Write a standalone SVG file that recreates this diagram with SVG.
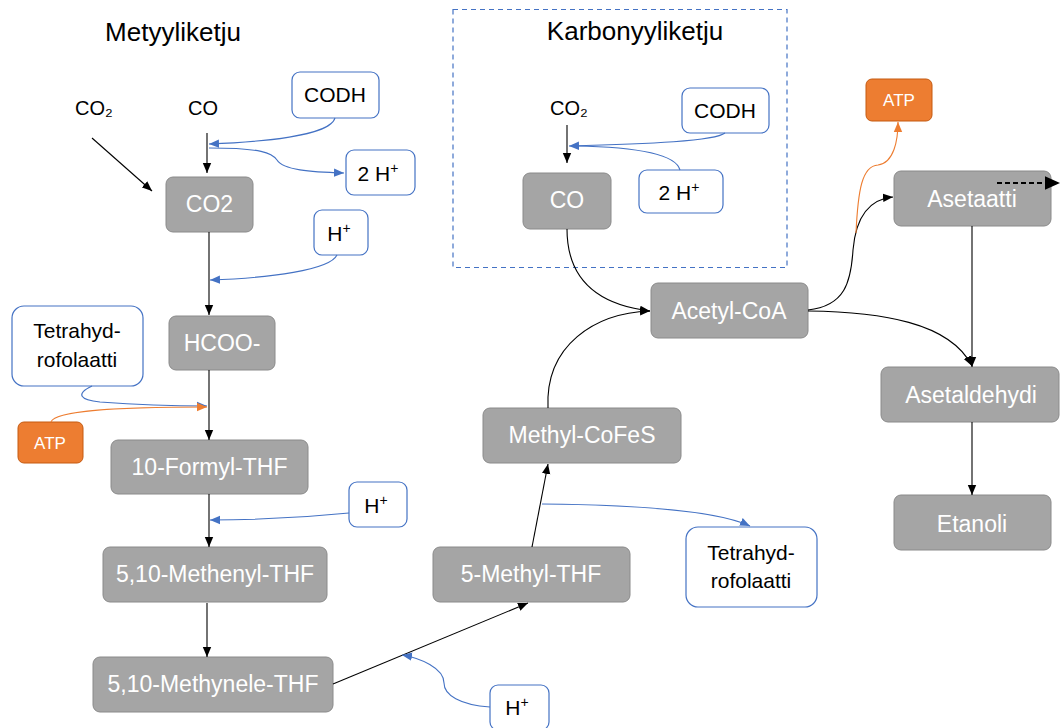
<svg xmlns="http://www.w3.org/2000/svg" width="1060" height="728" viewBox="0 0 1060 728">
<style>
text{font-family:"Liberation Sans",Arial,sans-serif;text-anchor:middle}
.title{font-size:26px;fill:#000}
.lbl{font-size:20px;fill:#000}
.node rect{fill:#A5A5A5;stroke:#8A8A8A;stroke-width:1}
.node text{font-size:23px;fill:#fff}
.cof rect{fill:#fff;stroke:#4472C4;stroke-width:1.2}
.cof text{font-size:21px;fill:#000}
.atp rect{fill:#ED7D31;stroke:#C55A11;stroke-width:1}
.atp text{font-size:17px;fill:#fff}
.k{fill:none;stroke:#000;stroke-width:1.1}
.b{fill:none;stroke:#4472C4;stroke-width:1.1}
.o{fill:none;stroke:#ED7D31;stroke-width:1.1}
</style>
<defs>
<marker id="ak" markerUnits="userSpaceOnUse" markerWidth="10" markerHeight="10" viewBox="0 0 10 10" refX="10" refY="5" orient="auto"><path d="M0,0.8 L10,5 L0,9.2 z" fill="#000"/></marker>
<marker id="ab" markerUnits="userSpaceOnUse" markerWidth="10" markerHeight="10" viewBox="0 0 10 10" refX="10" refY="5" orient="auto"><path d="M0,0.8 L10,5 L0,9.2 z" fill="#4472C4"/></marker>
<marker id="ao" markerUnits="userSpaceOnUse" markerWidth="10" markerHeight="10" viewBox="0 0 10 10" refX="10" refY="5" orient="auto"><path d="M0,0.8 L10,5 L0,9.2 z" fill="#ED7D31"/></marker>
<marker id="abig" markerUnits="userSpaceOnUse" markerWidth="15" markerHeight="15" viewBox="0 0 10 10" refX="10" refY="5" orient="auto"><path d="M0,0.5 L10,5 L0,9.5 z" fill="#000"/></marker>
</defs>

<rect x="453" y="9.5" width="334" height="258" fill="none" stroke="#4472C4" stroke-width="1.2" stroke-dasharray="5,4"/>

<text class="title" x="173" y="41">Metyyliketju</text>
<text class="title" x="635" y="40">Karbonyyliketju</text>
<text class="lbl" x="94" y="115">CO₂</text>
<text class="lbl" x="203" y="115">CO</text>
<text class="lbl" x="569" y="115">CO₂</text>

<g id="codh1" class="cof"><rect x="292" y="72" width="87" height="46" rx="8"/><text x="335" y="102">CODH</text></g>
<g id="h2a" class="cof"><rect x="346" y="150" width="69" height="45" rx="8"/><text x="378" y="181">2 H<tspan dy="-8" font-size="14">+</tspan></text></g>
<g id="co2node" class="node"><rect x="166" y="177" width="87" height="55" rx="7"/><text x="209.5" y="212">CO2</text></g>
<g id="hp1" class="cof"><rect x="314" y="210" width="54" height="45" rx="8"/><text x="339" y="241">H<tspan dy="-8" font-size="14">+</tspan></text></g>
<g id="hcoo" class="node"><rect x="169" y="316" width="106" height="54" rx="7"/><text x="222" y="351">HCOO-</text></g>
<g id="thf1" class="cof"><rect x="12" y="306" width="131" height="80" rx="12"/><text x="77" y="338">Tetrahyd-</text><text x="77" y="367">rofolaatti</text></g>
<g id="atp1" class="atp"><rect x="18" y="422" width="65" height="41" rx="6"/><text x="50" y="449">ATP</text></g>
<g id="formyl" class="node"><rect x="111" y="440" width="197" height="54" rx="7"/><text x="209.5" y="475">10-Formyl-THF</text></g>
<g id="hp2" class="cof"><rect x="349" y="482" width="58" height="45" rx="8"/><text x="376" y="513">H<tspan dy="-8" font-size="14">+</tspan></text></g>
<g id="methenyl" class="node"><rect x="103" y="547" width="224" height="55" rx="7"/><text x="215" y="582">5,10-Methenyl-THF</text></g>
<g id="methynele" class="node"><rect x="93" y="657" width="240" height="55" rx="7"/><text x="213" y="692">5,10-Methynele-THF</text></g>
<g id="hp3" class="cof"><rect x="490" y="685" width="59" height="45" rx="8"/><text x="517" y="715">H<tspan dy="-8" font-size="14">+</tspan></text></g>
<g id="methylthf" class="node"><rect x="433" y="547" width="197" height="55" rx="7"/><text x="531" y="582">5-Methyl-THF</text></g>
<g id="cofes" class="node"><rect x="483" y="408" width="198" height="55" rx="7"/><text x="582" y="443">Methyl-CoFeS</text></g>
<g id="thf2" class="cof"><rect x="686" y="527" width="131" height="80" rx="12"/><text x="751" y="560">Tetrahyd-</text><text x="751" y="588">rofolaatti</text></g>
<g id="codh2" class="cof"><rect x="682" y="88" width="87" height="45" rx="8"/><text x="725" y="118">CODH</text></g>
<g id="h2b" class="cof"><rect x="639" y="170" width="84" height="43" rx="8"/><text x="679" y="200">2 H<tspan dy="-8" font-size="14">+</tspan></text></g>
<g id="conode" class="node"><rect x="523" y="173" width="88" height="56" rx="7"/><text x="567" y="208">CO</text></g>
<g id="acetylcoa" class="node"><rect x="651" y="283" width="157" height="55" rx="7"/><text x="729" y="319">Acetyl-CoA</text></g>
<g id="atp2" class="atp"><rect x="866" y="79" width="66" height="42" rx="6"/><text x="899" y="106">ATP</text></g>
<g id="asetaatti" class="node"><rect x="894" y="171" width="157" height="55" rx="7"/><text x="972" y="207">Asetaatti</text></g>
<g id="asetaldehydi" class="node"><rect x="881" y="367" width="178" height="55" rx="7"/><text x="971" y="403">Asetaldehydi</text></g>
<g id="etanoli" class="node"><rect x="894" y="495" width="157" height="55" rx="7"/><text x="972" y="532">Etanoli</text></g>

<g id="connectors">
<path class="k" d="M92,138 L152,191" marker-end="url(#ak)"/>
<path class="k" d="M207,133 L207,173" marker-end="url(#ak)"/>
<path class="b" d="M335,118 C330,136 260,142 209,144" marker-end="url(#ab)"/>
<path class="b" d="M209,148 C262,148 272,153 277,160 C283,170 310,172 344,173" marker-end="url(#ab)"/>
<path class="k" d="M209,232 L209,315" marker-end="url(#ak)"/>
<path class="b" d="M337,255 C330,270 270,278 210,280" marker-end="url(#ab)"/>
<path class="k" d="M209,370 L209,440" marker-end="url(#ak)"/>
<path class="b" d="M92,386 C75,394 80,400 100,402 C140,405 180,406 207,406" marker-end="url(#ab)"/>
<path class="o" d="M51,422 C55,410 120,407 207,407" marker-end="url(#ao)"/>
<path class="k" d="M209,494 L209,547" marker-end="url(#ak)"/>
<path class="b" d="M349,513 C300,518 250,520 210,520" marker-end="url(#ab)"/>
<path class="k" d="M207,603 L207,657" marker-end="url(#ak)"/>
<path class="k" d="M333,684 L528,603" marker-end="url(#ak)"/>
<path class="b" d="M490,707 C460,705 444,695 444,683 C444,668 420,658 402,655" marker-end="url(#ab)"/>
<path class="k" d="M532,547 L548,464" marker-end="url(#ak)"/>
<path class="b" d="M542,504 C650,505 720,512 750,526" marker-end="url(#ab)"/>
<path class="k" d="M548,408 C545,345 595,313 650,311" marker-end="url(#ak)"/>
<path class="k" d="M567,229 C567,282 600,305 650,311" marker-end="url(#ak)"/>
<path class="k" d="M567,125 L567,163" marker-end="url(#ak)"/>
<path class="b" d="M725,133 C715,141 650,144 569,146" marker-end="url(#ab)"/>
<path class="b" d="M680,170 C676,155 640,147 575,146"/>
<path class="k" d="M808,310 C845,306 851,282 853,250 C856,215 870,199 893,197" marker-end="url(#ak)"/>
<path class="o" d="M856,233 C858,190 862,166 878,165 C894,163 898,140 898,122" marker-end="url(#ao)"/>
<path class="k" d="M808,311 C880,312 950,322 972,366" marker-end="url(#ak)"/>
<path class="k" d="M972,226 L972,367" marker-end="url(#ak)"/>
<path class="k" d="M972,422 L972,495" marker-end="url(#ak)"/>
<path d="M997,183 L1060,183" fill="none" stroke="#000" stroke-width="2" stroke-dasharray="5,3" marker-end="url(#abig)"/>
</g>
</svg>
